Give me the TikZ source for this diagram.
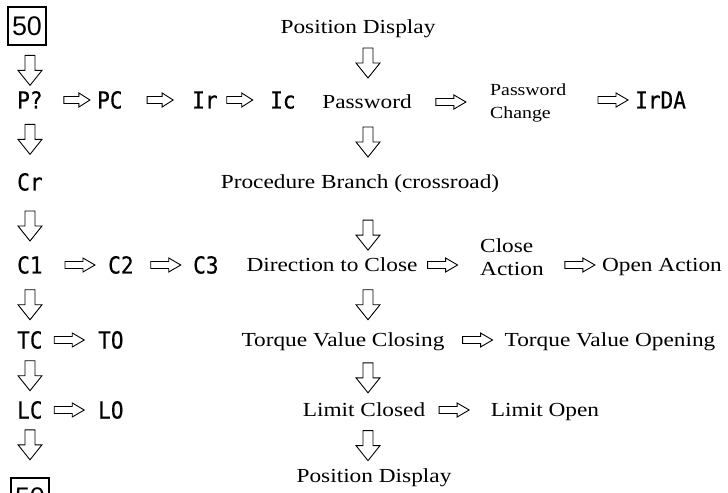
\documentclass[tikz,border=0pt]{standalone}
\usepackage{fontspec}
\setmainfont[FakeStretch=1.17]{Liberation Serif}
\newfontfamily\lft[FakeStretch=0.9,FakeBold=0.4]{DejaVu Sans Mono}
\newfontfamily\boxf{Liberation Sans}
\usetikzlibrary{calc}
\tikzset{
  lab/.style={inner sep=0pt, text height=17bp, text depth=0pt, font=\lft\fontsize{23.5}{23.5}\selectfont},
  txt/.style={inner sep=0pt, text height=13.2bp, text depth=0pt, font=\fontsize{20}{23}\selectfont},
  twoline/.style={inner sep=0pt, align=left, font=\fontsize{20}{23}\selectfont},
  twosmall/.style={inner sep=0pt, align=left, font=\fontsize{17}{23}\selectfont},
  numbox/.style={draw, line width=1.2bp, minimum size=38bp, inner sep=0pt, font=\boxf\fontsize{27}{27}\selectfont},
  arrline/.style={draw, line width=0.9bp, fill=white},
  darr/.pic={\path[arrline] (-5,-15) -- (5,-15) -- (5,0) -- (12,0) -- (0,15) -- (-12,0) -- (-5,0) -- cycle;},
  rarr/.pic={\path[arrline] (-15,-3.5) -- (3,-3.5) -- (3,-7) -- (15,0) -- (3,7) -- (3,3.5) -- (-15,3.5) -- cycle;},
  srarr/.pic={\path[arrline] (-13,-3.5) -- (2,-3.5) -- (2,-7) -- (13,0) -- (2,7) -- (2,3.5) -- (-13,3.5) -- cycle;}
}
\begin{document}
\begin{tikzpicture}[x=1bp,y=-1bp]
\clip (0,0) rectangle (728,493);
\fill[white] (0,0) rectangle (728,493);
\coordinate (lsp) at (30,0);
\coordinate (csp) at (368,0);
% left column
\node[numbox] (b1) at (27,26) {50};
\node[lab, anchor=west] (P) at (17,100) {P?};
\node[lab, anchor=west] (PC) at (97,100) {PC};
\node[lab, anchor=west] (Ir) at (192,100) {Ir};
\node[lab, anchor=west] (Ic) at (270,100) {Ic};
\node[lab, anchor=west] (IrDA) at (635,100) {IrDA};
\node[lab, anchor=west] (Cr) at (17,182) {Cr};
\node[lab, anchor=west] (C1) at (17,265) {C1};
\node[lab, anchor=west] (C2) at (108,265) {C2};
\node[lab, anchor=west] (C3) at (193,265) {C3};
\node[lab, anchor=west] (TC) at (17,340) {TC};
\node[lab, anchor=west] (TO) at (98,340) {TO};
\node[lab, anchor=west] (LC) at (17,410) {LC};
\node[lab, anchor=west] (LO) at (98,410) {LO};
\node[numbox] (b2) at (30,497) {50};
% serif column
\node[txt] (PD1) at (358,27) {Position Display};
\node[txt] (Pw) at (367,102) {Password};
\node[twosmall, anchor=west] (PwC) at (490,103) {Password\\Change};
\node[txt] (PB) at (360,182) {Procedure Branch (crossroad)};
\node[txt] (DC) at (332,265) {Direction to Close};
\node[twoline, anchor=west] (CA) at (480,257) {Close\\Action};
\node[txt] (OA) at (662,265) {Open Action};
\node[txt] (TVC) at (343,340) {Torque Value Closing};
\node[txt] (TVO) at (610,340) {Torque Value Opening};
\node[txt] (LCl) at (364,410) {Limit Closed};
\node[txt] (LOp) at (545,410) {Limit Open};
\node[txt] (PD2) at (374,476) {Position Display};
% horizontal arrows
\coordinate (h1) at ($(P.east)!0.63!(PC.west)$);   \pic at (h1) {srarr};
\coordinate (h2) at ($(PC.east)!0.54!(Ir.west)$);  \pic at (h2) {srarr};
\coordinate (h3) at ($(Ir.east)!0.42!(Ic.west)$);  \pic at (h3) {srarr};
\coordinate (h4) at ($(Pw.east)!0.5!(PwC.west)$);  \pic at (h4 |- Pw) {rarr};
\coordinate (h5) at ($(PwC.east)!0.68!(IrDA.west)$); \pic at (h5 |- IrDA) {rarr};
\coordinate (h6) at ($(C1.east)!0.57!(C2.west)$);  \pic at (h6) {rarr};
\coordinate (h7) at ($(C2.east)!0.54!(C3.west)$);  \pic at (h7) {rarr};
\coordinate (h8) at ($(DC.east)!0.4!(CA.west)$);   \pic at (h8 |- DC) {rarr};
\coordinate (h9) at ($(CA.east)!0.62!(OA.west)$);  \pic at (h9 |- OA) {rarr};
\coordinate (h10) at ($(TC.east)!0.48!(TO.west)$); \pic at (h10) {rarr};
\coordinate (h11) at ($(TVC.east)!0.55!(TVO.west)$); \pic at (h11) {rarr};
\coordinate (h12) at ($(LC.east)!0.48!(LO.west)$); \pic at (h12) {rarr};
\coordinate (h13) at ($(LCl.east)!0.44!(LOp.west)$); \pic at (h13) {rarr};
% vertical arrows, left
\coordinate (v1) at ($(b1)!0.6!(P)$);   \pic at (v1 -| lsp) {darr};
\coordinate (v2) at ($(P)!0.48!(Cr)$);  \pic at (v2 -| lsp) {darr};
\coordinate (v3) at ($(Cr)!0.53!(C1)$); \pic at (v3 -| lsp) {darr};
\coordinate (v4) at ($(C1)!0.53!(TC)$); \pic at (v4 -| lsp) {darr};
\coordinate (v5) at ($(TC)!0.51!(LC)$); \pic at (v5 -| lsp) {darr};
\coordinate (v6) at ($(LC)!0.4!(b2)$);  \pic at (v6 -| lsp) {darr};
% vertical arrows, centre
\coordinate (w1) at ($(PD1)!0.48!(Pw)$);  \pic at (w1 -| csp) {darr};
\coordinate (w2) at ($(Pw)!0.5!(PB)$);    \pic at (w2 -| csp) {darr};
\coordinate (w3) at ($(PB)!0.64!(DC)$);   \pic at (w3 -| csp) {darr};
\coordinate (w4) at ($(DC)!0.53!(TVC)$);  \pic at (w4 -| csp) {darr};
\coordinate (w5) at ($(TVC)!0.54!(LCl)$); \pic at (w5 -| csp) {darr};
\coordinate (w6) at ($(LCl)!0.54!(PD2)$); \pic at (w6 -| csp) {darr};
\end{tikzpicture}
\end{document}
